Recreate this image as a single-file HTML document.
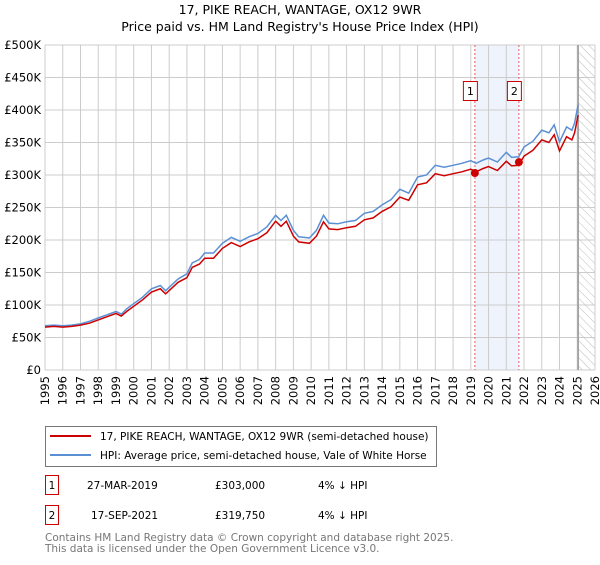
<!DOCTYPE html>
<html><head><meta charset="utf-8"><style>
body{margin:0;background:#fff;font-family:"Liberation Sans","DejaVu Sans",sans-serif;}
svg text{font-family:"DejaVu Sans","Liberation Sans",sans-serif;}
</style></head><body>
<svg id="c" width="600" height="560" xmlns="http://www.w3.org/2000/svg">
<text x="300" y="14" text-anchor="middle" font-size="12.5">17, PIKE REACH, WANTAGE, OX12 9WR</text>
<text x="300" y="31" text-anchor="middle" font-size="12.5">Price paid vs. HM Land Registry's House Price Index (HPI)</text>
<defs><pattern id="h" width="6" height="6" patternUnits="userSpaceOnUse" patternTransform="rotate(-45)"><line x1="0" y1="0" x2="0" y2="6" stroke="#bbb" stroke-width="1"/></pattern></defs>
<g id="grid"></g><g id="marks"></g><g id="axes"></g>
<g>
<rect x="45.5" y="426.5" width="391" height="40" fill="#fff" stroke="#777"/>
<line x1="50" y1="436" x2="91" y2="436" stroke="#cc0000" stroke-width="2"/>
<text x="100" y="440" font-size="10.5">17, PIKE REACH, WANTAGE, OX12 9WR (semi-detached house)</text>
<line x1="50" y1="455" x2="91" y2="455" stroke="#5b8fd4" stroke-width="2"/>
<text x="100" y="459" font-size="10.5">HPI: Average price, semi-detached house, Vale of White Horse</text>
</g>
<g font-size="10.5">
<rect x="45.5" y="475.5" width="13" height="19" fill="#fff" stroke="#cc0000"/><text x="52" y="489" text-anchor="middle">1</text>
<text x="87" y="489">27-MAR-2019</text><text x="215" y="489">£303,000</text><text x="318" y="489">4% ↓ HPI</text>
<rect x="45.5" y="505.5" width="13" height="19" fill="#fff" stroke="#cc0000"/><text x="52" y="519" text-anchor="middle">2</text>
<text x="91" y="519">17-SEP-2021</text><text x="215" y="519">£319,750</text><text x="318" y="519">4% ↓ HPI</text>
</g>
<text x="45" y="541" font-size="10.5" fill="#777">Contains HM Land Registry data © Crown copyright and database right 2025.</text>
<text x="45" y="552" font-size="10.5" fill="#777">This data is licensed under the Open Government Licence v3.0.</text>
</svg>
<script>
const yearTicks=[1995,1996,1997,1998,1999,2000,2001,2002,2003,2004,2005,2006,2007,2008,2009,2010,2011,2012,2013,2014,2015,2016,2017,2018,2019,2020,2021,2022,2023,2024,2025,2026];
const yTicks=[0,50,100,150,200,250,300,350,400,450,500];
const yTickLabels=["£0","£50K","£100K","£150K","£200K","£250K","£300K","£350K","£400K","£450K","£500K"];
const hpiYears=[1995,1995.5,1996,1996.5,1997,1997.5,1998,1998.5,1999,1999.3,1999.6,2000,2000.5,2001,2001.5,2001.8,2002.5,2003,2003.3,2003.7,2004,2004.5,2005,2005.5,2006,2006.5,2007,2007.5,2008,2008.3,2008.6,2009,2009.3,2009.9,2010.3,2010.7,2011,2011.5,2012,2012.5,2013,2013.5,2014,2014.5,2015,2015.5,2016,2016.5,2017,2017.5,2018,2018.5,2019,2019.3,2019.7,2020,2020.5,2021,2021.3,2021.7,2022,2022.5,2023,2023.4,2023.7,2024,2024.4,2024.7,2024.85,2025.05];
const hpiValues=[68,69,68,69,71,75,80,85,90,86,94,102,112,125,130,122,140,148,165,170,180,180,195,204,198,205,210,220,238,230,238,215,205,203,215,238,226,225,228,230,241,244,254,262,278,272,297,300,315,312,315,318,322,318,323,326,320,335,327,328,343,352,369,365,377,351,374,369,380,408];
const priceValues=[66,67,66,67,69,72,77,82,87,83,90,98,108,120,125,117,135,142,158,163,172,172,187,196,190,197,202,211,229,221,229,206,197,195,206,228,217,216,219,221,231,234,244,251,266,261,285,288,302,299,302,305,309,305,310,313,307,321,314,315,329,338,354,350,362,337,359,354,365,392];
const saleYears=[2019.23,2021.71];
const saleValues=[303,319.75];
const saleLabels=["1","2"];
const NS="http://www.w3.org/2000/svg";
const X0=45,X1=595,Y0=370,Y1=45,END=2025.05;
const x=v=>X0+(v-1995)/(2026-1995)*(X1-X0);
const y=v=>Y0-v/500*(Y0-Y1);
function mk(t,a,p){const e=document.createElementNS(NS,t);for(const k in a)e.setAttribute(k,a[k]);p.appendChild(e);return e;}
const grid=document.getElementById('grid'),marks=document.getElementById('marks'),axes=document.getElementById('axes');
let r=mk('rect',{x:x(saleYears[0]),y:Y1,width:x(saleYears[1])-x(saleYears[0]),height:Y0-Y1,fill:'#eef3fc'},grid);


r=mk('rect',{x:x(END),y:Y1,width:X1-x(END),height:Y0-Y1,fill:'url(#h)'},grid);


yearTicks.forEach(t=>{const l=mk('line',{x1:x(t),x2:x(t),y1:Y1,y2:Y0,stroke:'#ccc'},grid);


const tx=mk('text',{x:0,y:0,'font-size':'11.5','text-anchor':'end',transform:`translate(${x(t)+4},${Y0+6}) rotate(-90)`},axes);tx.textContent=t;

});
yTicks.forEach((t,i)=>{const l=mk('line',{x1:X0,x2:X1,y1:y(t),y2:y(t),stroke:'#ccc'},grid);


const tx=mk('text',{x:X0-4,y:y(t)+4,'font-size':'11.5','text-anchor':'end'},axes);tx.textContent=yTickLabels[i];

});
let vl=mk('line',{x1:x(END),x2:x(END),y1:Y1,y2:Y0,stroke:'#999','stroke-width':1.5},grid);


saleYears.forEach((s,i)=>{const l=mk('line',{x1:x(s),x2:x(s),y1:Y1,y2:Y0,stroke:'#e06060','stroke-dasharray':'2,2'},grid);

});
const path=(xs,vs)=>xs.map((v,i)=>(i?'L':'M')+x(v).toFixed(1)+','+y(vs[i]).toFixed(1)).join('');
let p=mk('path',{d:path(hpiYears,hpiValues),fill:'none',stroke:'#5b8fd4','stroke-width':1.5},marks);


p=mk('path',{d:path(hpiYears,priceValues),fill:'none',stroke:'#cc0000','stroke-width':1.5},marks);


saleYears.forEach((s,i)=>{const c=mk('circle',{cx:x(s),cy:y(saleValues[i]),r:4,fill:'#cc0000'},marks);


const g=mk('g',{},marks);


mk('rect',{x:x(s)-11.5,y:81.5,width:14,height:19,fill:'#fff',stroke:'#cc0000'},g);
const t=mk('text',{x:x(s)-4.5,y:95,'font-size':'11','text-anchor':'middle'},g);t.textContent=saleLabels[i];});
</script>
</body></html>
